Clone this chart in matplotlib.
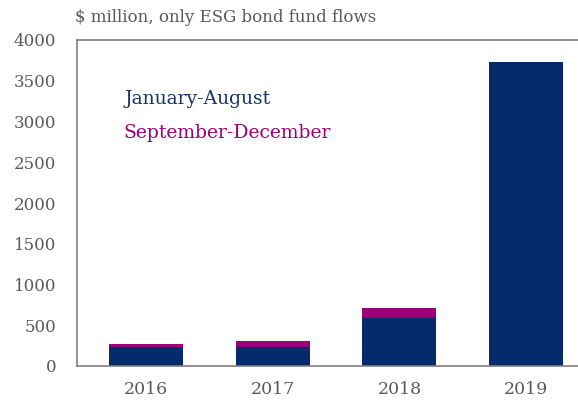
import matplotlib
matplotlib.use("Agg")
import matplotlib.pyplot as plt
import numpy as np

years = ["2016", "2017", "2018", "2019"]
jan_aug = [228, 237, 593, 3725]
sep_dec = [42, 70, 123, 0]

navy = "#052b6d"
purple = "#990077"
grey = "#595959"

plt.rcParams['font.family'] = ['DejaVu Serif']

fig = plt.figure(figsize=(5.78, 4.01), dpi=100)
ax = fig.add_axes([77 / 578, 35 / 401, 1 - 77 / 578, 326 / 401])

x = np.arange(len(years))
ax.bar(x, jan_aug, width=0.585, color=navy)
ax.bar(x, sep_dec, width=0.585, bottom=jan_aug, color=purple)

ax.set_xlim(-0.545, 3.41)
ax.set_ylim(0, 4000)
ax.set_yticks(range(0, 4001, 500))
ax.set_xticks(x)
ax.set_xticklabels(years)
ax.tick_params(length=0, colors=grey)
ax.tick_params(axis="y", pad=15, labelsize=12)
ax.tick_params(axis="x", pad=11, labelsize=12.5)
for side in ["left", "top", "bottom"]:
    ax.spines[side].set_color("#7f7f7f")
    ax.spines[side].set_linewidth(1.2)
ax.spines["right"].set_visible(False)

ax.text(0.094, 0.82, "January-August", color="#14336f", fontsize=13.5,
        transform=ax.transAxes, va="center")
ax.text(0.092, 0.715, "September-December", color=purple, fontsize=13.5,
        transform=ax.transAxes, va="center")
fig.text(75 / 578, 1 - 18 / 401, "$ million, only ESG bond fund flows",
         color=grey, fontsize=12, va="center")

fig.savefig("out.png", dpi=100)
